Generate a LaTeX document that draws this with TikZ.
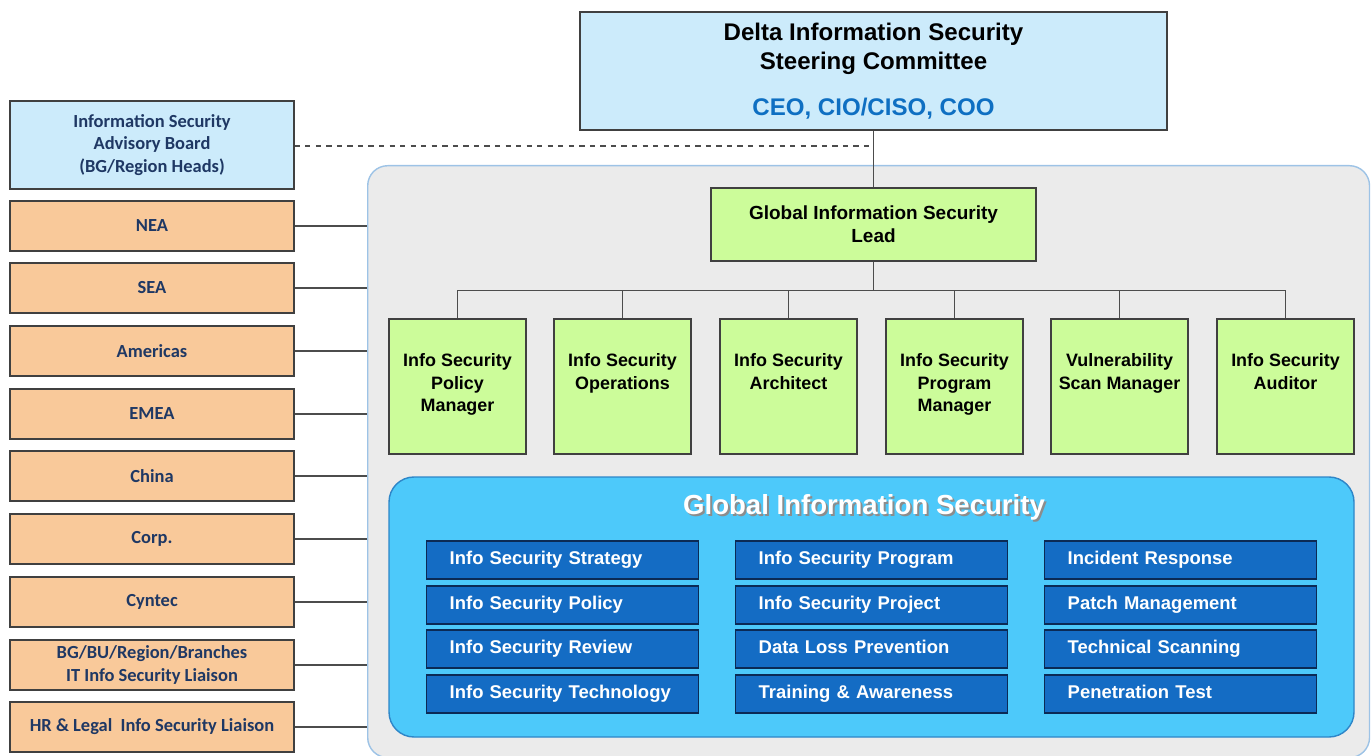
\documentclass[tikz,border=0pt]{standalone}
\usepackage{fontspec}
\setmainfont{Liberation Sans}
\newfontfamily\headsf{Liberation Sans}
\newfontfamily\calibsf{Carlito}
\usetikzlibrary{positioning}

\definecolor{paleblue}{HTML}{CCEBFB}
\definecolor{peach}{HTML}{F9C99A}
\definecolor{lime}{HTML}{CCFC9A}
\definecolor{hubgrey}{HTML}{EBEBEB}
\definecolor{hubline}{HTML}{9DC3E6}
\definecolor{panelblue}{HTML}{4DC9FA}
\definecolor{panelline}{HTML}{2E86C8}
\definecolor{taskblue}{HTML}{146CC4}
\definecolor{taskline}{HTML}{0B2A55}
\definecolor{ceoblue}{HTML}{0E6FC2}
\definecolor{navy}{HTML}{1F3864}

\begin{document}
\begin{tikzpicture}[x=0.02cm, y=-0.02cm,
    box/.style={draw=black!75, line width=0.8pt},
    region/.style={box, fill=peach, minimum width=5.68cm, minimum height=1cm,
      text=navy, align=center, font=\calibsf\bfseries\fontsize{10.5}{12.8}\selectfont},
    role/.style={box, fill=lime, minimum width=2.74cm, minimum height=2.7cm},
    roletext/.style={align=center, inner sep=0pt,
      font=\headsf\bfseries\fontsize{10.2}{12.8}\selectfont},
    task/.style={draw=taskline, line width=0.8pt, fill=taskblue, anchor=west,
      minimum height=0.76cm, inner xsep=0.46cm, text width=4.52cm, align=left,
      text height=0.75em, text depth=0.22em,
      text=white, font=\headsf\bfseries\fontsize{10.5}{13}\selectfont},
    link/.style={draw=black!70, line width=0.6pt}]
  \useasboundingbox (0,0) rectangle (1371,756);

  % grey area and blue panel
  \node[draw=hubline, line width=0.8pt, fill=hubgrey, rounded corners=0.4cm,
    anchor=north west, minimum width=20.04cm, minimum height=11.84cm] (hub) at (367,165) {};
  \draw[draw=panelline, line width=0.8pt, fill=panelblue, rounded corners=0.5cm]
    (389,477) rectangle (1354,737);

  % committee and lead
  \node[box, fill=paleblue, minimum width=11.74cm, minimum height=2.36cm, align=center,
    font=\headsf\bfseries\fontsize{13.7}{16.5}\selectfont] (steer) at (873.5,71)
    {Delta Information Security\\Steering Committee\\[10pt]{\color{ceoblue}CEO, CIO/CISO, COO}};
  \node[box, fill=lime, minimum width=6.5cm, minimum height=1.46cm, align=center,
    font=\headsf\bfseries\fontsize{10.8}{13}\selectfont] (lead) at (873.5,224.5)
    {Global Information Security\\Lead};

  % left column
  \node[region, fill=paleblue] (board) at (152,145) [minimum height=1.76cm]
    {Information Security\\Advisory Board\\(BG/Region Heads)};
  \node[region] (nea) at (152,226) {NEA};
  \node[region] (sea) at (152,288) {SEA};
  \node[region] (amer) at (152,351) {Americas};
  \node[region] (emea) at (152,414) {EMEA};
  \node[region] (china) at (152,476) {China};
  \node[region] (corp) at (152,539) {Corp.};
  \node[region] (cyntec) at (152,602) {Cyntec};
  \node[region] (liaison) at (152,665) {BG/BU/Region/Branches\\IT Info Security Liaison};
  \node[region] (hrlegal) at (152,727) {HR \& Legal\ \ Info Security Liaison};

  \foreach \n in {nea,sea,amer,emea,china,corp,cyntec,liaison,hrlegal}
    \draw[link] (\n.east) -- (\n.east -| hub.west);

  \draw[link] (steer.south) -- (lead.north);
  \draw[link, dashed] (board.east |- 0,146) -- (steer.south |- 0,146);

  % roles
  \foreach \x/\n/\t in {457.5/r1/{Info Security\\Policy\\Manager},
      622.5/r2/{Info Security\\Operations},
      788.5/r3/{Info Security\\Architect},
      954.5/r4/{Info Security\\Program\\Manager},
      1119.5/r5/{Vulnerability\\Scan Manager},
      1285.5/r6/{Info Security\\Auditor}} {
    \node[role] (\n) at (\x,386.5) {};
    \node[roletext, below=0.7cm of \n.north] (\n-t) {\t};
    \draw[link] (lead.south) -- ++(0,29) -| (\n.north);
  }

  % panel title
  \node[text=black!45, font=\headsf\bfseries\fontsize{15.7}{18}\selectfont] (shade) at (866,509)
    {Global Information Security};
  \node[text=white, font=\headsf\bfseries\fontsize{15.7}{18}\selectfont] (title) at (864,507)
    {Global Information Security};

  % tasks
  \node[task] (t11) at (426,560) {Info Security Strategy};
  \node[task] (t12) at (426,605) {Info Security Policy};
  \node[task] (t13) at (426,649) {Info Security Review};
  \node[task] (t14) at (426,694) {Info Security Technology};
  \node[task] (t21) at (735,560) {Info Security Program};
  \node[task] (t22) at (735,605) {Info Security Project};
  \node[task] (t23) at (735,649) {Data Loss Prevention};
  \node[task] (t24) at (735,694) {Training \& Awareness};
  \node[task] (t31) at (1044,560) {Incident Response};
  \node[task] (t32) at (1044,605) {Patch Management};
  \node[task] (t33) at (1044,649) {Technical Scanning};
  \node[task] (t34) at (1044,694) {Penetration Test};
\end{tikzpicture}
\end{document}
